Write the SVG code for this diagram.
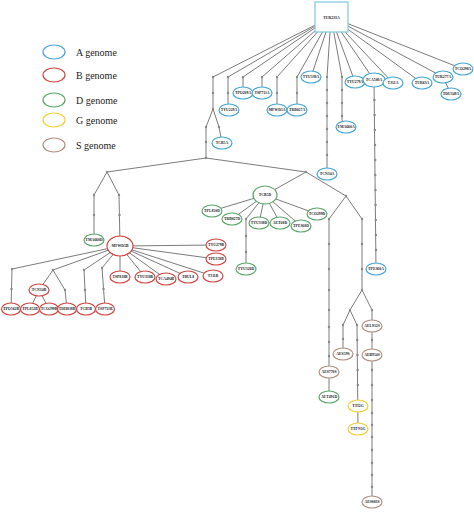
<svg xmlns="http://www.w3.org/2000/svg" width="474" height="514" viewBox="0 0 474 514">
<style>
.e{fill:none;stroke:#5a5a5a;stroke-width:0.8}
.d{fill:#888;stroke:none}
.n ellipse{fill:#fff;stroke-width:1.2}
.A ellipse{stroke:#45a5d5}
.B ellipse{stroke:#cf4540}
.D ellipse{stroke:#5aa56a}
.G ellipse{stroke:#f0cf35}
.S ellipse{stroke:#b38e80}
.n text{font-family:"Liberation Serif",serif;font-size:3.8px;font-weight:bold;text-anchor:middle;fill:#222}
.lg{font-family:"Liberation Serif",serif;font-size:10px;fill:#222}
</style>
<rect width="474" height="514" fill="#fff"/>
<g id="legend">
<ellipse cx="54" cy="52" rx="11" ry="7" fill="none" stroke="#45a5d5" stroke-width="1.2"/>
<text class="lg" x="76" y="55.5">A genome</text>
<ellipse cx="54" cy="75" rx="11" ry="7" fill="none" stroke="#cf4540" stroke-width="1.2"/>
<text class="lg" x="76" y="78.5">B genome</text>
<ellipse cx="54" cy="100" rx="11" ry="7" fill="none" stroke="#5aa56a" stroke-width="1.2"/>
<text class="lg" x="76" y="103.5">D genome</text>
<ellipse cx="54" cy="120" rx="11" ry="7" fill="none" stroke="#f0cf35" stroke-width="1.2"/>
<text class="lg" x="76" y="123.5">G genome</text>
<ellipse cx="54" cy="145" rx="11" ry="7" fill="none" stroke="#b38e80" stroke-width="1.2"/>
<text class="lg" x="76" y="148.5">S genome</text>
</g>
<g id="connectors">
<path class="e" d="M331,17 L213,77 L213,109 L206,127 L206,158"/>
<path class="e" d="M213,109 L219,127 L222,143"/>
<path class="e" d="M331,17 L228,77 L228,110"/>
<path class="e" d="M331,17 L243,77 L243,93"/>
<path class="e" d="M331,17 L262,77 L262,93"/>
<path class="e" d="M331,17 L277,77 L277,110"/>
<path class="e" d="M331,17 L297,77 L297,110"/>
<path class="e" d="M331,17 L311,77"/>
<path class="e" d="M331,17 L327,77 L327,174"/>
<path class="e" d="M331,17 L342,77 L342,120 L346,127"/>
<path class="e" d="M331,17 L355,82"/>
<path class="e" d="M331,17 L374,80 L376,269"/>
<path class="e" d="M331,17 L393,83"/>
<path class="e" d="M331,17 L422,83"/>
<path class="e" d="M331,17 L443,77 L451,94"/>
<path class="e" d="M331,17 L463,69"/>
<path class="e" d="M107,172 L206,158 L306,172"/>
<path class="e" d="M94,240 L94,195 L107,172 L119,195 L120,246"/>
<path class="e" d="M120,246 L216,245 M120,246 L216,259 M120,246 L213,276 M120,246 L188,277 M120,246 L166,279 M120,246 L145,277 M120,246 L120,277"/>
<path class="e" d="M120,246 L12,269 L11,309"/>
<path class="e" d="M120,246 L53,270 L39,290 M53,270 L65,290 L67,309"/>
<path class="e" d="M39,290 L30,309 M39,290 L49,309"/>
<path class="e" d="M120,246 L84,270 L86,309"/>
<path class="e" d="M120,246 L102,268 L105,309"/>
<path class="e" d="M306,172 L265,195"/>
<path class="e" d="M265,195 L212,211 M265,195 L232,219 M265,195 L259,223 M265,195 L280,223 M265,195 L301,226 M265,195 L317,214"/>
<path class="e" d="M265,195 L246,219 L246,269"/>
<path class="e" d="M306,172 L346,196 L329,219 L329,397"/>
<path class="e" d="M346,196 L362,219 L362,290 L350,310 L343,325 L343,354"/>
<path class="e" d="M350,310 L357,325 L358,429"/>
<path class="e" d="M362,290 L372,310 L372,502"/>
<g class="d">
<circle cx="213" cy="77" r="1.2"/><circle cx="213" cy="93" r="1.2"/><circle cx="213" cy="109" r="1.2"/>
<circle cx="206" cy="127" r="1.2"/><circle cx="206" cy="142" r="1.2"/><circle cx="206" cy="158" r="1.2"/>
<circle cx="219" cy="127" r="1.2"/>
<circle cx="228" cy="77" r="1.2"/><circle cx="228" cy="93" r="1.2"/>
<circle cx="243" cy="77" r="1.2"/><circle cx="262" cy="77" r="1.2"/>
<circle cx="277" cy="77" r="1.2"/><circle cx="277" cy="93" r="1.2"/>
<circle cx="297" cy="77" r="1.2"/><circle cx="297" cy="93" r="1.2"/>
<circle cx="327" cy="77" r="1.2"/><circle cx="327" cy="90" r="1.2"/><circle cx="327" cy="103" r="1.2"/><circle cx="327" cy="116" r="1.2"/><circle cx="327" cy="129" r="1.2"/><circle cx="327" cy="142" r="1.2"/><circle cx="327" cy="155" r="1.2"/>
<circle cx="342" cy="77" r="1.2"/><circle cx="342" cy="90" r="1.2"/><circle cx="342" cy="103" r="1.2"/><circle cx="342" cy="116" r="1.2"/>
<circle cx="374.4" cy="100" r="1.2"/><circle cx="374.6" cy="115" r="1.2"/><circle cx="374.8" cy="130" r="1.2"/><circle cx="375" cy="145" r="1.2"/><circle cx="375.2" cy="160" r="1.2"/><circle cx="375.3" cy="175" r="1.2"/><circle cx="375.5" cy="190" r="1.2"/><circle cx="375.6" cy="205" r="1.2"/><circle cx="375.8" cy="220" r="1.2"/><circle cx="375.9" cy="235" r="1.2"/><circle cx="376" cy="250" r="1.2"/>
<circle cx="107" cy="172" r="1.2"/><circle cx="306" cy="172" r="1.2"/>
<circle cx="94" cy="195" r="1.2"/><circle cx="94" cy="215" r="1.2"/>
<circle cx="119" cy="195" r="1.2"/><circle cx="119.5" cy="215" r="1.2"/>
<circle cx="12" cy="269" r="1.2"/><circle cx="11.5" cy="289" r="1.2"/>
<circle cx="53" cy="270" r="1.2"/><circle cx="65" cy="290" r="1.2"/>
<circle cx="84" cy="270" r="1.2"/><circle cx="85" cy="290" r="1.2"/>
<circle cx="102" cy="268" r="1.2"/><circle cx="103.5" cy="289" r="1.2"/>
<circle cx="246" cy="219" r="1.2"/><circle cx="246" cy="236" r="1.2"/><circle cx="246" cy="252" r="1.2"/>
<circle cx="346" cy="196" r="1.2"/>
<circle cx="329" cy="219" r="1.2"/><circle cx="329" cy="244" r="1.2"/><circle cx="329" cy="269" r="1.2"/><circle cx="329" cy="290" r="1.2"/><circle cx="329" cy="310" r="1.2"/><circle cx="329" cy="327" r="1.2"/><circle cx="329" cy="342" r="1.2"/><circle cx="329" cy="356" r="1.2"/>
<circle cx="362" cy="219" r="1.2"/><circle cx="362" cy="244" r="1.2"/><circle cx="362" cy="269" r="1.2"/><circle cx="362" cy="290" r="1.2"/>
<circle cx="350" cy="310" r="1.2"/><circle cx="372" cy="310" r="1.2"/>
<circle cx="343" cy="325" r="1.2"/><circle cx="343" cy="339" r="1.2"/>
<circle cx="357" cy="325" r="1.2"/><circle cx="357.2" cy="340" r="1.2"/><circle cx="357.4" cy="355" r="1.2"/><circle cx="357.6" cy="370" r="1.2"/><circle cx="357.8" cy="385" r="1.2"/>
<circle cx="372" cy="340" r="1.2"/><circle cx="372" cy="370" r="1.2"/><circle cx="372" cy="385" r="1.2"/><circle cx="372" cy="400" r="1.2"/><circle cx="372" cy="413" r="1.2"/><circle cx="372" cy="425" r="1.2"/><circle cx="372" cy="437" r="1.2"/><circle cx="372" cy="450" r="1.2"/><circle cx="372" cy="463" r="1.2"/><circle cx="372" cy="475" r="1.2"/><circle cx="372" cy="487" r="1.2"/>
</g>
</g>
<g id="TUR233A" class="n A"><rect x="315" y="2" width="33" height="30" fill="#fff" stroke="#7cc8e0" stroke-width="1.2"/><text x="331.5" y="18.5">TUR233A</text></g>
<g id="TCB5A" class="n A"><ellipse cx="222" cy="143" rx="10" ry="6"/><text x="222" y="144.3">TCB5A</text></g>
<g id="TYU229A" class="n A"><ellipse cx="229" cy="110" rx="10" ry="6"/><text x="229" y="111.3">TYU229A</text></g>
<g id="TPO209A" class="n A"><ellipse cx="243" cy="93" rx="10" ry="6"/><text x="243" y="94.3">TPO209A</text></g>
<g id="TSP711A" class="n A"><ellipse cx="262" cy="93" rx="10" ry="6"/><text x="262" y="94.3">TSP711A</text></g>
<g id="MFWD5A" class="n A"><ellipse cx="277" cy="110" rx="10" ry="6"/><text x="277" y="111.3">MFWD5A</text></g>
<g id="TRB027A" class="n A"><ellipse cx="297" cy="110" rx="10" ry="6"/><text x="297" y="111.3">TRB027A</text></g>
<g id="TYU338A" class="n A"><ellipse cx="311" cy="77" rx="10" ry="6"/><text x="311" y="78.3">TYU338A</text></g>
<g id="TCN34A" class="n A"><ellipse cx="327" cy="174" rx="10" ry="6"/><text x="327" y="175.3">TCN34A</text></g>
<g id="TMA660A" class="n A"><ellipse cx="346" cy="127" rx="10" ry="6"/><text x="346" y="128.3">TMA660A</text></g>
<g id="TYU279A" class="n A"><ellipse cx="355" cy="82" rx="10" ry="6"/><text x="355" y="83.3">TYU279A</text></g>
<g id="TCA500A" class="n A"><ellipse cx="374" cy="80" rx="11" ry="7"/><text x="374" y="81.3">TCA500A</text></g>
<g id="T311A" class="n A"><ellipse cx="393" cy="83" rx="10" ry="6"/><text x="393" y="84.3">T311A</text></g>
<g id="TUR63A" class="n A"><ellipse cx="422" cy="83" rx="10" ry="6"/><text x="422" y="84.3">TUR63A</text></g>
<g id="TUR277A" class="n A"><ellipse cx="443" cy="77" rx="10" ry="6"/><text x="443" y="78.3">TUR277A</text></g>
<g id="TDU349A" class="n A"><ellipse cx="451" cy="94" rx="10" ry="6"/><text x="451" y="95.3">TDU349A</text></g>
<g id="TCO298A" class="n A"><ellipse cx="463" cy="69" rx="10" ry="6"/><text x="463" y="70.3">TCO298A</text></g>
<g id="TPE360A" class="n A"><ellipse cx="376" cy="269" rx="10" ry="6"/><text x="376" y="270.3">TPE360A</text></g>
<g id="TMA660D" class="n D"><ellipse cx="94" cy="240" rx="10" ry="6"/><text x="94" y="241.3">TMA660D</text></g>
<g id="MFWD5B" class="n B"><ellipse cx="120" cy="246" rx="13" ry="10"/><text x="120" y="247.3">MFWD5B</text></g>
<g id="TYU279B" class="n B"><ellipse cx="216" cy="245" rx="10" ry="6"/><text x="216" y="246.3">TYU279B</text></g>
<g id="TPE358B" class="n B"><ellipse cx="216" cy="259" rx="10" ry="6"/><text x="216" y="260.3">TPE358B</text></g>
<g id="T311B" class="n B"><ellipse cx="213" cy="276" rx="10" ry="6"/><text x="213" y="277.3">T311B</text></g>
<g id="TBUL8" class="n B"><ellipse cx="188" cy="277" rx="10" ry="6"/><text x="188" y="278.3">TBUL8</text></g>
<g id="TCA494B" class="n B"><ellipse cx="166" cy="279" rx="10" ry="6"/><text x="166" y="280.3">TCA494B</text></g>
<g id="TYU338B" class="n B"><ellipse cx="145" cy="277" rx="10" ry="6"/><text x="145" y="278.3">TYU338B</text></g>
<g id="TSP818B" class="n B"><ellipse cx="120" cy="277" rx="10" ry="6"/><text x="120" y="278.3">TSP818B</text></g>
<g id="TCN34B" class="n B"><ellipse cx="39" cy="290" rx="10" ry="6"/><text x="39" y="291.3">TCN34B</text></g>
<g id="TPO562B" class="n B"><ellipse cx="11" cy="309" rx="9.5" ry="6"/><text x="11" y="310.3">TPO562B</text></g>
<g id="TPL852B" class="n B"><ellipse cx="30" cy="309" rx="9.5" ry="6"/><text x="30" y="310.3">TPL852B</text></g>
<g id="TCO299B" class="n B"><ellipse cx="49" cy="309" rx="9.5" ry="6"/><text x="49" y="310.3">TCO299B</text></g>
<g id="TDH838B" class="n B"><ellipse cx="67" cy="309" rx="9.5" ry="6"/><text x="67" y="310.3">TDH838B</text></g>
<g id="TCB5B" class="n B"><ellipse cx="86" cy="309" rx="9.5" ry="6"/><text x="86" y="310.3">TCB5B</text></g>
<g id="TSP711B" class="n B"><ellipse cx="105" cy="309" rx="9.5" ry="6"/><text x="105" y="310.3">TSP711B</text></g>
<g id="TCB5D" class="n D"><ellipse cx="265" cy="195" rx="12" ry="9"/><text x="265" y="196.3">TCB5D</text></g>
<g id="TPL850D" class="n D"><ellipse cx="212" cy="211" rx="10" ry="6"/><text x="212" y="212.3">TPL850D</text></g>
<g id="TRB027D" class="n D"><ellipse cx="232" cy="219" rx="10" ry="6"/><text x="232" y="220.3">TRB027D</text></g>
<g id="TYU338D" class="n D"><ellipse cx="259" cy="223" rx="10" ry="6"/><text x="259" y="224.3">TYU338D</text></g>
<g id="AET60D" class="n D"><ellipse cx="280" cy="223" rx="10" ry="6"/><text x="280" y="224.3">AET60D</text></g>
<g id="TPE360D" class="n D"><ellipse cx="301" cy="226" rx="10" ry="6"/><text x="301" y="227.3">TPE360D</text></g>
<g id="TCO299D" class="n D"><ellipse cx="317" cy="214" rx="10" ry="6"/><text x="317" y="215.3">TCO299D</text></g>
<g id="TYU326D" class="n D"><ellipse cx="246" cy="269" rx="10" ry="6"/><text x="246" y="270.3">TYU326D</text></g>
<g id="AES770S" class="n S"><ellipse cx="329" cy="372" rx="10" ry="6"/><text x="329" y="373.3">AES770S</text></g>
<g id="AET491D" class="n D"><ellipse cx="329" cy="397" rx="10" ry="6"/><text x="329" y="398.3">AET491D</text></g>
<g id="AES59S" class="n S"><ellipse cx="343" cy="354" rx="10" ry="6"/><text x="343" y="355.3">AES59S</text></g>
<g id="TTI2G" class="n G"><ellipse cx="358" cy="406" rx="10" ry="6"/><text x="358" y="407.3">TTI2G</text></g>
<g id="TTFN1G" class="n G"><ellipse cx="358" cy="429" rx="10" ry="6"/><text x="358" y="430.3">TTFN1G</text></g>
<g id="AEL912S" class="n S"><ellipse cx="372" cy="326" rx="10" ry="6"/><text x="372" y="327.3">AEL912S</text></g>
<g id="AEB954S" class="n S"><ellipse cx="372" cy="355" rx="10" ry="6"/><text x="372" y="356.3">AEB954S</text></g>
<g id="AES003S" class="n S"><ellipse cx="372" cy="502" rx="10" ry="6"/><text x="372" y="503.3">AES003S</text></g>
</svg>
